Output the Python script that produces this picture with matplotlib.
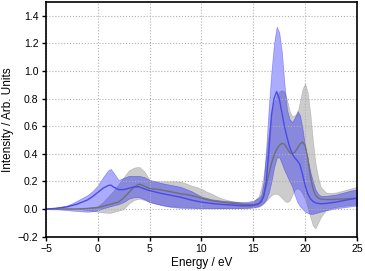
import matplotlib
matplotlib.use("Agg")
import matplotlib.pyplot as plt
import numpy as np

plt.rcParams['font.family'] = ['Liberation Sans', 'DejaVu Sans']

# energy grid (eV)
energy = [-5, -4.5, -4, -3.5, -3, -2.5, -2, -1.5, -1, -0.5,
          0, 0.5, 1, 1.25, 1.5, 2, 2.5, 3, 3.5, 4, 4.5,
          5, 5.5, 6, 6.5, 7, 7.5, 8, 8.5, 9, 9.5,
          10, 10.5, 11, 11.5, 12, 12.5, 13, 13.5, 14, 14.5,
          15, 15.5, 15.75, 16, 16.25, 16.5, 16.75, 17, 17.25, 17.5, 17.75,
          18, 18.25, 18.5, 18.75, 19, 19.25, 19.5, 19.75, 20, 20.25,
          20.5, 20.75, 21, 21.25, 21.5, 22, 22.5, 23, 23.5, 24, 24.5, 25]

# blue set: mean, lower, upper
blue_mean = [0, 0.002, 0.005, 0.01, 0.015, 0.025, 0.035, 0.05, 0.065, 0.09,
             0.12, 0.15, 0.17, 0.173, 0.16, 0.14, 0.14, 0.15, 0.16, 0.16, 0.145,
             0.133, 0.124, 0.115, 0.107, 0.1, 0.092, 0.085, 0.075, 0.065, 0.057,
             0.05, 0.045, 0.04, 0.036, 0.033, 0.03, 0.028, 0.025, 0.023, 0.023,
             0.025, 0.035, 0.05, 0.09, 0.2, 0.42, 0.68, 0.8, 0.85, 0.8, 0.7,
             0.6, 0.52, 0.45, 0.4, 0.37, 0.35, 0.32, 0.25, 0.17, 0.11,
             0.075, 0.055, 0.045, 0.04, 0.038, 0.04, 0.045, 0.05, 0.058, 0.065, 0.072, 0.077]
blue_low = [0, -0.002, -0.003, -0.005, -0.008, -0.012, -0.015, -0.018, -0.02, -0.017,
            -0.01, 0.005, 0.015, 0.02, 0.025, 0.035, 0.05, 0.075, 0.085, 0.085, 0.07,
            0.05, 0.04, 0.03, 0.022, 0.015, 0.011, 0.008, 0.006, 0.005, 0.005,
            0.005, 0.005, 0.005, 0.005, 0.005, 0.005, 0.006, 0.006, 0.007, 0.009,
            0.012, 0.02, 0.03, 0.045, 0.07, 0.12, 0.2, 0.3, 0.37, 0.375, 0.33,
            0.28, 0.24, 0.2, 0.16, 0.1, 0.05, 0.02, 0.0, -0.02, -0.03,
            -0.035, -0.035, -0.03, -0.025, -0.02, -0.01, -0.003, 0.005, 0.01, 0.015, 0.02, 0.025]
blue_up = [0, 0.005, 0.01, 0.017, 0.025, 0.04, 0.06, 0.08, 0.1, 0.13,
           0.17, 0.23, 0.28, 0.29, 0.265, 0.21, 0.225, 0.24, 0.24, 0.24, 0.23,
           0.21, 0.2, 0.19, 0.182, 0.175, 0.168, 0.16, 0.145, 0.13, 0.11,
           0.09, 0.08, 0.07, 0.065, 0.06, 0.057, 0.055, 0.052, 0.05, 0.053,
           0.06, 0.08, 0.1, 0.2, 0.45, 0.75, 1.0, 1.2, 1.32, 1.28, 1.14,
           0.91, 0.72, 0.65, 0.63, 0.66, 0.71, 0.68, 0.58, 0.45, 0.36,
           0.27, 0.2, 0.14, 0.11, 0.095, 0.095, 0.1, 0.105, 0.115, 0.125, 0.135, 0.14]

# grey set: mean, lower, upper
grey_mean = [0, 0, 0, 0, 0, 0, 0, 0.002, 0.004, 0.007,
             0.01, 0.02, 0.03, 0.035, 0.04, 0.05, 0.08, 0.12, 0.16, 0.18, 0.165,
             0.148, 0.144, 0.14, 0.132, 0.125, 0.118, 0.11, 0.105, 0.098, 0.088,
             0.078, 0.068, 0.06, 0.055, 0.05, 0.045, 0.041, 0.037, 0.033, 0.031,
             0.03, 0.04, 0.06, 0.1, 0.17, 0.25, 0.33, 0.39, 0.43, 0.46, 0.475,
             0.47, 0.44, 0.41, 0.4, 0.41, 0.44, 0.47, 0.485, 0.46, 0.37,
             0.24, 0.15, 0.1, 0.08, 0.072, 0.068, 0.068, 0.07, 0.072, 0.074, 0.076, 0.078]
grey_low = [0, 0, 0, 0, 0, 0, 0, -0.003, -0.008, -0.014,
            -0.02, -0.026, -0.028, -0.027, -0.022, -0.012, 0.0, 0.04, 0.065, 0.075, 0.065,
            0.05, 0.04, 0.032, 0.025, 0.02, 0.017, 0.015, 0.013, 0.011, 0.009,
            0.008, 0.007, 0.006, 0.005, 0.005, 0.005, 0.005, 0.005, 0.005, 0.006,
            0.01, 0.015, 0.025, 0.04, 0.06, 0.08, 0.1, 0.11, 0.11, 0.1, 0.08,
            0.06, 0.05, 0.06, 0.1, 0.14, 0.15, 0.14, 0.11, 0.07, 0.01,
            -0.06, -0.12, -0.14, -0.1, -0.06, -0.01, 0.005, 0.015, 0.02, 0.025, 0.03, 0.03]
grey_up = [0, 0, 0, 0, 0, 0, 0, 0.003, 0.008, 0.013,
           0.02, 0.05, 0.09, 0.11, 0.13, 0.18, 0.23, 0.28, 0.3, 0.305, 0.27,
           0.21, 0.203, 0.2, 0.2, 0.2, 0.2, 0.198, 0.185, 0.17, 0.16,
           0.145, 0.125, 0.11, 0.09, 0.075, 0.065, 0.055, 0.05, 0.045, 0.045,
           0.05, 0.09, 0.15, 0.25, 0.4, 0.55, 0.68, 0.77, 0.82, 0.85, 0.86,
           0.85, 0.79, 0.71, 0.67, 0.68, 0.69, 0.78, 0.87, 0.91, 0.84,
           0.69, 0.49, 0.33, 0.23, 0.16, 0.12, 0.115, 0.12, 0.13, 0.14, 0.15, 0.16]

fig = plt.figure(figsize=(3.65, 2.71), dpi=100)
ax = fig.add_axes([0.126, 0.127, 0.852, 0.866])

ax.fill_between(energy, grey_low, grey_up, facecolor="grey", alpha=0.4,
                edgecolor="grey", linewidth=0.5)
ax.fill_between(energy, blue_low, blue_up, facecolor="blue", alpha=0.33,
                edgecolor="blue", linewidth=0.5)
ax.plot(energy, grey_mean, color="#707070", lw=1.0)
ax.plot(energy, blue_mean, color="#4a4ae8", lw=1.0)

ax.set_xlim(-5, 25)
ax.set_ylim(-0.2, 1.5)
ax.set_xticks([-5, 0, 5, 10, 15, 20, 25])
ax.set_yticks([-0.2, 0.0, 0.2, 0.4, 0.6, 0.8, 1.0, 1.2, 1.4])
ax.set_yticklabels(["\u22120.2", "0.0", "0.2", "0.4", "0.6", "0.8", "1.0", "1.2", "1.4"])
ax.grid(True, linestyle=":", color="#b0b0b0", linewidth=0.8)
ax.tick_params(labelsize=7.6, length=3, width=1, pad=2.5)
for s in ax.spines.values():
    s.set_linewidth(1.2)

ax.set_xlabel("Energy / eV", fontsize=8.5, labelpad=2)
ax.set_ylabel("Intensity / Arb. Units", fontsize=8.5, labelpad=3)

plt.savefig("out.png", dpi=100)
